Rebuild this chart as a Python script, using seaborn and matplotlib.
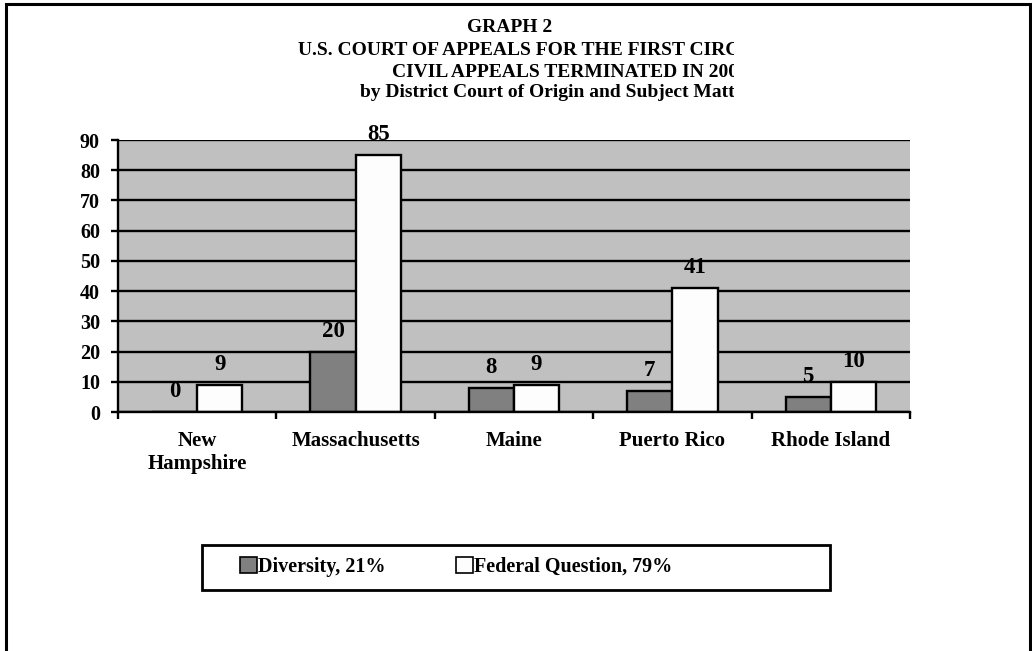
import pandas as pd
import numpy as np
import seaborn as sns
from matplotlib import pyplot as plt
from matplotlib.patches import Rectangle, Patch
from matplotlib.transforms import Bbox, TransformedBbox

districts = ['New\nHampshire', 'Massachusetts', 'Maine', 'Puerto Rico', 'Rhode Island']
diversity = [0, 20, 8, 7, 5]
federal = [9, 85, 9, 41, 10]
series = ['Diversity', 'Federal Question']
shares = [21, 79]
title_lines = ['GRAPH 2',
               'U.S. COURT OF APPEALS FOR THE FIRST CIRCUIT',
               'CIVIL APPEALS TERMINATED IN 200',
               'by District Court of Origin and Subject Matter']

sns.set_style('white')
plt.rcParams['font.family'] = ['Liberation Serif', 'DejaVu Serif']
plt.rcParams['font.weight'] = 'bold'
for k in ['text.color', 'axes.labelcolor', 'xtick.color', 'ytick.color']:
  plt.rcParams[k] = 'black'

df = pd.DataFrame({
  'district': districts * 2,
  'subject': [series[0]] * len(districts) + [series[1]] * len(districts),
  'count': diversity + federal,
})

W, H = 1032, 651
fig = plt.figure(figsize=(W / 100, H / 100), dpi=100)
ax = fig.add_axes([118 / W, 1 - 412 / H, (910 - 118) / W, (412 - 140) / H])
ax.set_facecolor('#c0c0c0')

palette = {series[0]: '#808080', series[1]: '#fdfdfd'}
sns.barplot(data=df, x='district', y='count', hue='subject', hue_order=series,
            palette=palette, width=0.57, edgecolor='black', linewidth=1.7,
            errorbar=None, legend=False, ax=ax)

for cont in ax.containers:
  ax.bar_label(cont, padding=7, fontsize=16.5, fontweight='bold', color='black')

ax.set_xlim(-0.5, len(districts) - 0.5)
ax.set_ylim(0, 90)
ax.set_yticks(range(0, 91, 10))
ax.yaxis.grid(True, color='black', linewidth=1.7)
ax.set_axisbelow(True)
ax.set_xlabel('')
ax.set_ylabel('')

for s in ['top', 'right']:
  ax.spines[s].set_visible(False)
for s in ['left', 'bottom']:
  ax.spines[s].set_color('black')
  ax.spines[s].set_linewidth(1.7)

ax.tick_params(axis='y', direction='out', length=5, width=1.7, color='black',
               labelsize=14.5, pad=8, left=True, labelcolor='black')
ax.tick_params(axis='x', which='major', length=0, labelsize=15, pad=14, labelcolor='black')
ax.set_xticks(np.arange(-0.5, len(districts), 1.0), minor=True)
ax.tick_params(axis='x', which='minor', direction='out', length=5, width=1.7,
               color='black', bottom=True)
for lab in ax.get_xticklabels() + ax.get_yticklabels():
  lab.set_fontweight('bold')

# title, cut off at the right like the original
clip = TransformedBbox(Bbox.from_extents(0, 0, 734 / W, 1), fig.transFigure)
title_pos = [(509.5, 32, 'center'), (298, 55, 'left'), (392, 77, 'left'), (360, 97, 'left')]
for line, (x, y, ha) in zip(title_lines, title_pos):
  t = fig.text(x / W, 1 - y / H, line, ha=ha, va='baseline', fontsize=14,
               fontweight='bold', color='black')
  t.set_clip_box(clip)
  t.set_clip_on(True)

# legend box
fig.patches.append(Rectangle((202 / W, 1 - 590 / H), 628 / W, 45 / H,
                             transform=fig.transFigure, facecolor='white',
                             edgecolor='black', linewidth=2, zorder=1))
handles = [Patch(facecolor=palette[s], edgecolor='black', linewidth=1.2) for s in series]
labels = [f'{s}, {p}%' for s, p in zip(series, shares)]
fig.legend(handles, labels, loc='center left', bbox_to_anchor=(230 / W, 1 - 567 / H),
           ncol=2, frameon=False, handlelength=0.85, handleheight=0.85,
           handletextpad=0.05, columnspacing=3.5, borderpad=0,
           prop={'weight': 'bold', 'size': 14.5})

# outer frame
fig.patches.append(Rectangle((5.5 / W, -0.2), 1024.5 / W, 1.2 - 3.5 / H,
                             transform=fig.transFigure, fill=False,
                             edgecolor='black', linewidth=2.2, clip_on=False))

fig.savefig('out.png', dpi=100)
